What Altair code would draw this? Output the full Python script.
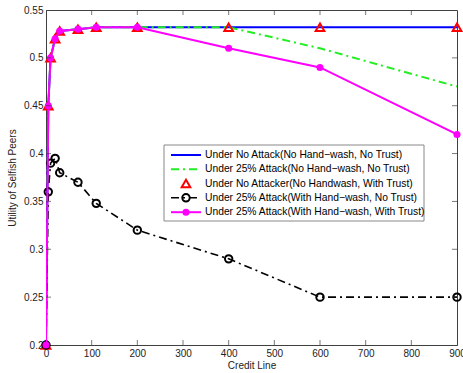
import altair as alt
import pandas as pd

# ---- data ----
credit = [0, 5, 10, 20, 30, 70, 110, 200, 400, 600, 900]
no_attack_no_trust = [0.2, 0.45, 0.5, 0.52, 0.528, 0.53, 0.532, 0.532, 0.532, 0.532, 0.532]
attack25_no_trust = [0.2, 0.45, 0.5, 0.52, 0.528, 0.53, 0.532, 0.532, 0.532, 0.51, 0.47]
no_attacker_with_trust = [0.2, 0.45, 0.5, 0.52, 0.528, 0.53, 0.532, 0.532, 0.532, 0.532, 0.532]
attack25_hw_no_trust = [0.2, 0.36, 0.39, 0.395, 0.38, 0.37, 0.348, 0.32, 0.29, 0.25, 0.25]
attack25_hw_with_trust = [0.2, 0.45, 0.5, 0.52, 0.528, 0.53, 0.532, 0.532, 0.51, 0.49, 0.42]

legend_labels = [
    "Under No Attack(No Hand\u2212wash, No Trust)",
    "Under 25% Attack(No Hand\u2212wash, No Trust)",
    "Under No Attacker(No Handwash, With Trust)",
    "Under 25% Attack(With Hand\u2212wash, No Trust)",
    "Under 25% Attack(With Hand\u2212wash, With Trust)",
]
x_tick_values = [0, 100, 200, 300, 400, 500, 600, 700, 800, 900]
y_tick_values = [0.2, 0.25, 0.3, 0.35, 0.4, 0.45, 0.5, 0.55]
x_inner_ticks = [100, 200, 300, 400, 500, 600, 700, 800]
y_inner_ticks = [0.25, 0.3, 0.35, 0.4, 0.45, 0.5]

df = pd.DataFrame({
    "credit": credit,
    "s1": no_attack_no_trust,
    "s2": attack25_no_trust,
    "s3": no_attacker_with_trust,
    "s4": attack25_hw_no_trust,
    "s5": attack25_hw_with_trust,
})

FONT = "Liberation Sans"
AX = "#404040"
DASHDOT = [8, 4, 2, 4]

xscale = alt.Scale(domain=[0, 900], nice=False, zero=False)
yscale = alt.Scale(domain=[0.2, 0.55], nice=False, zero=False)

xaxis = alt.Axis(values=x_tick_values, title="Credit Line", grid=False, ticks=False,
                 labelPadding=3, titlePadding=2, labelFlush=False, domain=True,
                 domainColor=AX)
yaxis = alt.Axis(values=y_tick_values, title="Utility of Selfish Peers", grid=False,
                 ticks=False, format=".2~f", labelPadding=3, titlePadding=6,
                 labelFlush=False, domainColor=AX)

base = alt.Chart(df)
X = alt.X("credit:Q", scale=xscale, axis=xaxis)

def Y(col):
    return alt.Y(f"{col}:Q", scale=yscale, axis=yaxis)

l1 = base.mark_line(color="#0000ff", strokeWidth=2, clip=True).encode(x=X, y=Y("s1"))
l2 = base.mark_line(color="#22ee22", strokeWidth=2, strokeDash=DASHDOT, clip=True).encode(x=X, y=Y("s2"))
p3 = base.mark_point(shape="triangle-up", color="#ff0000", filled=False, strokeWidth=2,
                     size=75, opacity=1, clip=False).encode(x=X, y=Y("s3"))
l4 = base.mark_line(color="#000000", strokeWidth=1.6, strokeDash=DASHDOT, clip=True).encode(x=X, y=Y("s4"))
p4 = base.mark_point(shape="circle", color="#000000", filled=False, strokeWidth=2,
                     size=55, opacity=1, clip=False).encode(x=X, y=Y("s4"))
l5 = base.mark_line(color="#ff00ff", strokeWidth=2, clip=True).encode(x=X, y=Y("s5"))
p5 = base.mark_point(shape="circle", color="#ff00ff", filled=True, size=50, opacity=1,
                     clip=False).encode(x=X, y=Y("s5"))

# inward ticks (MATLAB style)
xt = pd.DataFrame({"t": x_inner_ticks})
yt = pd.DataFrame({"t": y_inner_ticks})
tick_x_bottom = alt.Chart(xt).mark_tick(orient="vertical", size=5, thickness=1, color=AX,
                                        yOffset=-2.5).encode(
    x=alt.X("t:Q", scale=xscale, axis=xaxis), y=alt.datum(0.2, scale=yscale, axis=yaxis))
tick_x_top = alt.Chart(xt).mark_tick(orient="vertical", size=5, thickness=1, color=AX,
                                     yOffset=2.5).encode(
    x=alt.X("t:Q", scale=xscale, axis=xaxis), y=alt.datum(0.55, scale=yscale, axis=yaxis))
tick_y_left = alt.Chart(yt).mark_tick(orient="horizontal", size=5, thickness=1, color=AX,
                                      xOffset=2.5).encode(
    y=alt.Y("t:Q", scale=yscale, axis=yaxis), x=alt.datum(0, scale=xscale, axis=xaxis))
tick_y_right = alt.Chart(yt).mark_tick(orient="horizontal", size=5, thickness=1, color=AX,
                                       xOffset=-2.5).encode(
    y=alt.Y("t:Q", scale=yscale, axis=yaxis), x=alt.datum(900, scale=xscale, axis=xaxis))

# ---- legend (drawn by hand, MATLAB style) ----
row_y = [145, 159.3, 173.5, 187.8, 202.2]
leg_box = alt.Chart(pd.DataFrame({"a": [0]})).mark_rect(fill="white", stroke="#888888",
                                                         strokeWidth=1).encode(
    x=alt.value(118), x2=alt.value(378), y=alt.value(135), y2=alt.value(211))
legend_layers = [leg_box]
styles = [
    dict(line=dict(color="#0000ff", strokeWidth=2), pt=None),
    dict(line=dict(color="#22ee22", strokeWidth=2, strokeDash=DASHDOT), pt=None),
    dict(line=None, pt=dict(shape="triangle-up", color="#ff0000", filled=False, strokeWidth=2, size=75)),
    dict(line=dict(color="#000000", strokeWidth=1.6, strokeDash=DASHDOT),
         pt=dict(shape="circle", color="#000000", filled=False, strokeWidth=2, size=55)),
    dict(line=dict(color="#ff00ff", strokeWidth=2),
         pt=dict(shape="circle", color="#ff00ff", filled=True, size=50)),
]
for lab, yy, st in zip(legend_labels, row_y, styles):
    d = pd.DataFrame({"label": [lab]})
    if st["line"]:
        legend_layers.append(alt.Chart(d).mark_rule(**st["line"]).encode(
            x=alt.value(125), x2=alt.value(155), y=alt.value(yy)))
    if st["pt"]:
        legend_layers.append(alt.Chart(d).mark_point(opacity=1, **st["pt"]).encode(
            x=alt.value(140), y=alt.value(yy)))
    legend_layers.append(alt.Chart(d).mark_text(align="left", baseline="middle", fontSize=10.3,
                                                font=FONT, color="#000000").encode(
        x=alt.value(159), y=alt.value(yy), text="label:N"))

chart = alt.layer(
    l1, l2, p3, l4, p4, l5, p5,
    tick_x_bottom, tick_x_top, tick_y_left, tick_y_right,
    *legend_layers,
).properties(
    width=411, height=335,
    autosize=alt.AutoSizeParams(type="none"),
    padding={"left": 46, "top": 10, "right": 6, "bottom": 28},
    background="white",
).configure_view(
    stroke=AX, strokeWidth=1
).configure_axis(
    labelFont=FONT, titleFont=FONT, labelFontSize=10, titleFontSize=10,
    labelColor="#222222", titleColor="#222222", titleFontWeight="normal",
)

chart.save("out.html", embed_options={"renderer": "svg", "actions": False})
